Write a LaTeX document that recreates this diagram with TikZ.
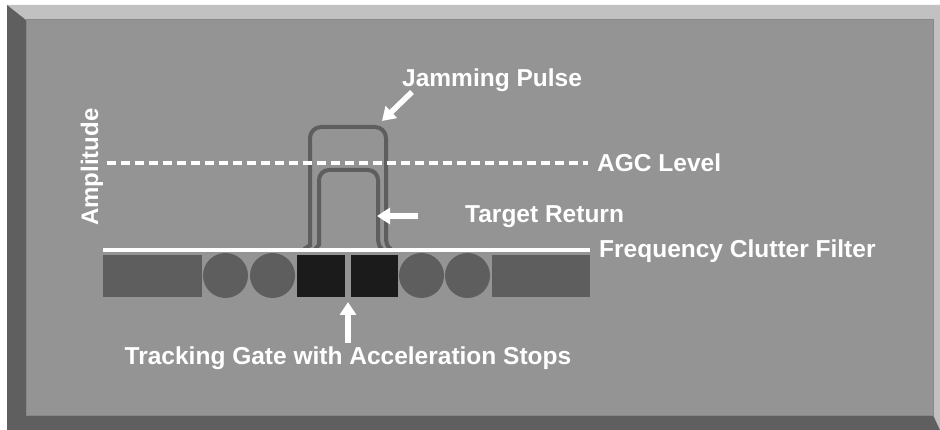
\documentclass[tikz,border=0pt]{standalone}
\usepackage{fontspec}
\setmainfont{Liberation Sans}
\usetikzlibrary{arrows.meta}
\definecolor{face}{HTML}{949494}
\definecolor{lightbev}{HTML}{C1C1C1}
\definecolor{darkbev}{HTML}{5F5F5F}
\definecolor{blockgray}{HTML}{5E5E5E}
\definecolor{blockblack}{HTML}{1B1B1B}
\tikzset{
  lbl/.style={text=white,font=\fontsize{24.5}{28}\selectfont\bfseries,inner sep=0pt,anchor=base west},
  warrow/.style={draw=white,line width=5.5pt,-{Triangle[length=13pt,width=16pt]}},
  pulse/.style={draw=blockgray,line width=4pt,rounded corners=11pt},
  blk/.style={fill=blockgray,draw=none},
  blkb/.style={fill=blockblack,draw=none}
}
\begin{document}
\begin{tikzpicture}[x=1pt,y=-1pt]
\useasboundingbox (0,0) rectangle (940,430);
\fill[white] (0,0) rectangle (940,430);
% bevel frame
\fill[lightbev] (7,5) -- (940,5) -- (940,430) -- (933,415) -- (26,20) -- cycle;
\fill[darkbev] (7,5) -- (26,20) -- (26,415) -- (933,415) -- (940,430) -- (7,430) -- cycle;
\filldraw[fill=face,draw=face!92!black,line width=1pt] (26,20) rectangle (933,415);
% pulses
\draw[pulse] (304,249) .. controls (309,247) and (310,243) .. (310,236) -- (310,127) -- (386,127) -- (386,236);
\draw[draw=blockgray,line width=4pt] (386,236) .. controls (386,243) and (387,247) .. (391,249);
\draw[pulse,rounded corners=10pt] (315,249) .. controls (318,247) and (319,243) .. (319,236) -- (319,170) -- (378,170) -- (378,236);
\draw[draw=blockgray,line width=4pt] (378,236) .. controls (378,243) and (379,247) .. (382,249);
% AGC dashed line
\coordinate (agcL) at (107,163);
\coordinate (agcR) at (588,163);
\draw[white,line width=4pt,dash pattern=on 9pt off 5pt] (agcL) -- (agcR);
% filter line
\coordinate (fcfL) at (103,250);
\coordinate (fcfR) at (590,250);
\draw[white,line width=4pt] (fcfL) -- (fcfR);
% blocks
\fill[blk] (103,255) rectangle (202,297);
\fill[blk] (225.5,275.5) circle (22.5);
\fill[blk] (272.5,275.5) circle (22.5);
\fill[blkb] (297,255) rectangle (345,297);
\fill[blkb] (351,255) rectangle (398,297);
\fill[blk] (421.5,275.5) circle (22.5);
\fill[blk] (467.5,275.5) circle (22.5);
\fill[blk] (492,255) rectangle (590,297);
% labels
\node[lbl] (jam) at (402,87) {Jamming Pulse};
\node[lbl] (agc) at (597,172) {AGC Level};
\node[lbl] (tgt) at (465,223) {Target Return};
\node[lbl] (fcf) at (599,258) {Frequency Clutter Filter};
\node[lbl,anchor=base] (trk) at (348,364) {Tracking Gate with Acceleration Stops};
\node[lbl,rotate=90,font=\fontsize{24}{28}\selectfont\bfseries] (amp) at (98,226) {Amplitude};
% arrows
\coordinate (jamT) at (412,92);
\coordinate (jamH) at (382,121);
\draw[warrow] (jamT) -- (jamH);
\coordinate (tgtT) at (418,216);
\coordinate (tgtH) at (377,216);
\draw[warrow] (tgtT) -- (tgtH);
\coordinate (trkT) at (348,343);
\coordinate (trkH) at (348,302);
\draw[warrow,line width=6pt] (trkT) -- (trkH);
\end{tikzpicture}
\end{document}
